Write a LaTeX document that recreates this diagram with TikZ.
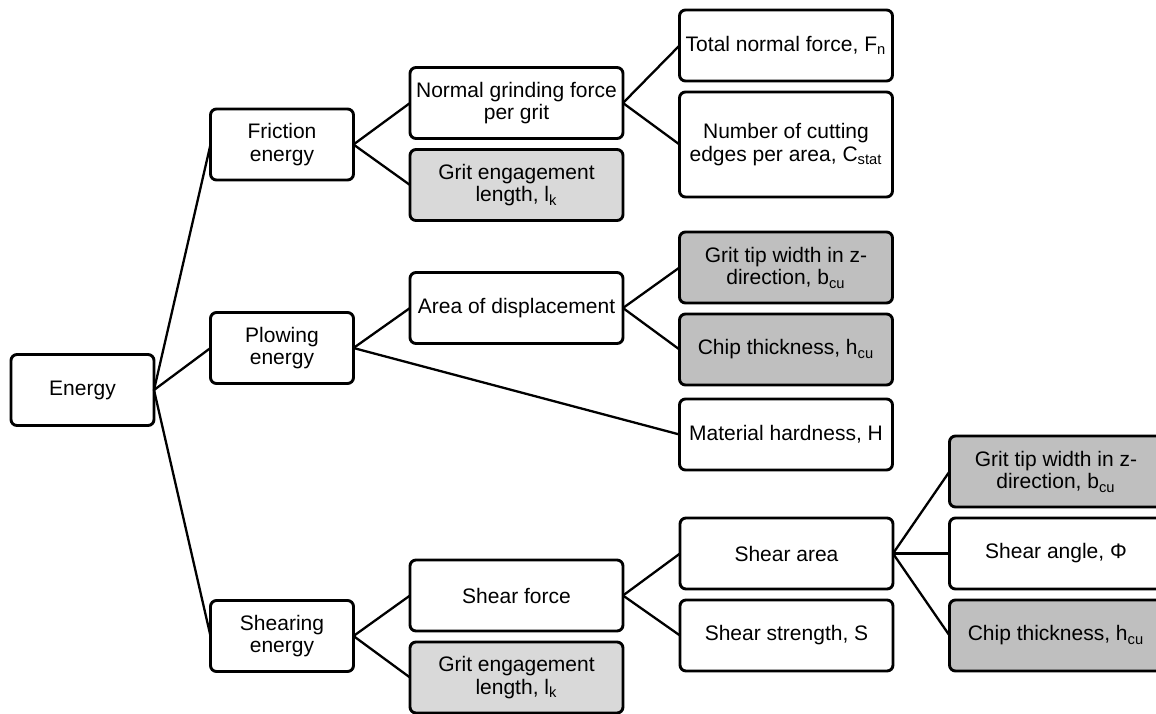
\documentclass[tikz,border=0pt]{standalone}
\usepackage{fontspec}
\setmainfont{Liberation Sans}
\usetikzlibrary{positioning}
\definecolor{treeLine}{HTML}{000000}
\definecolor{treeGrayLight}{HTML}{D9D9D9}
\definecolor{treeGrayDark}{HTML}{BFBFBF}
\tikzset{
  treeLink/.style={draw=treeLine, line width=1.15pt},
  treeBox/.style={
    draw=treeLine,
    fill=white,
    rounded corners=3pt,
    line width=1.45pt,
    align=center,
    minimum height=35.5pt,
    inner sep=1pt,
    outer sep=0pt
  },
  treeRoot/.style={treeBox, minimum width=71.5pt},
  treeMid/.style={treeBox, minimum width=106.5pt},
  treeLeaf/.style={treeBox, minimum width=106.5pt},
  treeKnown/.style={fill=treeGrayLight},
  treeInput/.style={fill=treeGrayDark}
}

\begin{document}
\begin{tikzpicture}[x=0.5pt, y=-0.5pt, font=\fontsize{10.5}{11.4}\selectfont, node distance=5.5pt]
  \useasboundingbox (0,0) rectangle (1156,713);

  \node[treeRoot] (energy) at (82.5,390) {Energy};
  \node[treeRoot] (friction) at (282,144.5) {Friction\\energy};
  \node[treeRoot] (plowing) at (282,348) {Plowing\\energy};
  \node[treeRoot] (shearing) at (282,636) {Shearing\\energy};

  % friction branch
  \node[treeMid] (normal) at (516.5,103) {Normal grinding force\\per grit};
  \node[treeMid, treeKnown, below=of normal] (gritA) {Grit engagement\\length, l\textsubscript{k}};
  \node[treeLeaf] (total) at (786,45.5) {Total normal force, F\textsubscript{n}};
  \node[treeLeaf, minimum height=52.5pt, below=of total] (edges) {Number of cutting\\edges per area, C\textsubscript{stat}};

  % plowing branch
  \node[treeMid] (area) at (516.5,308) {Area of displacement};
  \node[treeLeaf, treeInput] (tipA) at (786,267.5) {Grit tip width in z-\\direction, b\textsubscript{cu}};
  \node[treeLeaf, treeInput, below=of tipA] (chipA) {Chip thickness, h\textsubscript{cu}};
  \node[treeLeaf, below=7pt of chipA] (hardness) {Material hardness, H};

  % shearing branch
  \node[treeMid] (sforce) at (516.5,595.5) {Shear force};
  \node[treeMid, treeKnown, below=of sforce] (gritB) {Grit engagement\\length, l\textsubscript{k}};
  \node[treeLeaf] (sarea) at (786.5,553.5) {Shear area};
  \node[treeLeaf, below=of sarea] (strength) {Shear strength, S};
  \node[treeLeaf, treeInput] (tipB) at (1056,471.5) {Grit tip width in z-\\direction, b\textsubscript{cu}};
  \node[treeLeaf, below=of tipB] (angle) {Shear angle, Φ};
  \node[treeLeaf, treeInput, below=of angle] (chipB) {Chip thickness, h\textsubscript{cu}};

  \foreach \a/\b in {energy/friction,energy/plowing,energy/shearing,
    friction/normal,friction/gritA,normal/total,normal/edges,
    plowing/area,plowing/hardness,area/tipA,area/chipA,
    shearing/sforce,shearing/gritB,sforce/sarea,sforce/strength,
    sarea/tipB,sarea/angle,sarea/chipB}
    \draw[treeLink] (\a.east) -- (\b.west);
\end{tikzpicture}
\end{document}
